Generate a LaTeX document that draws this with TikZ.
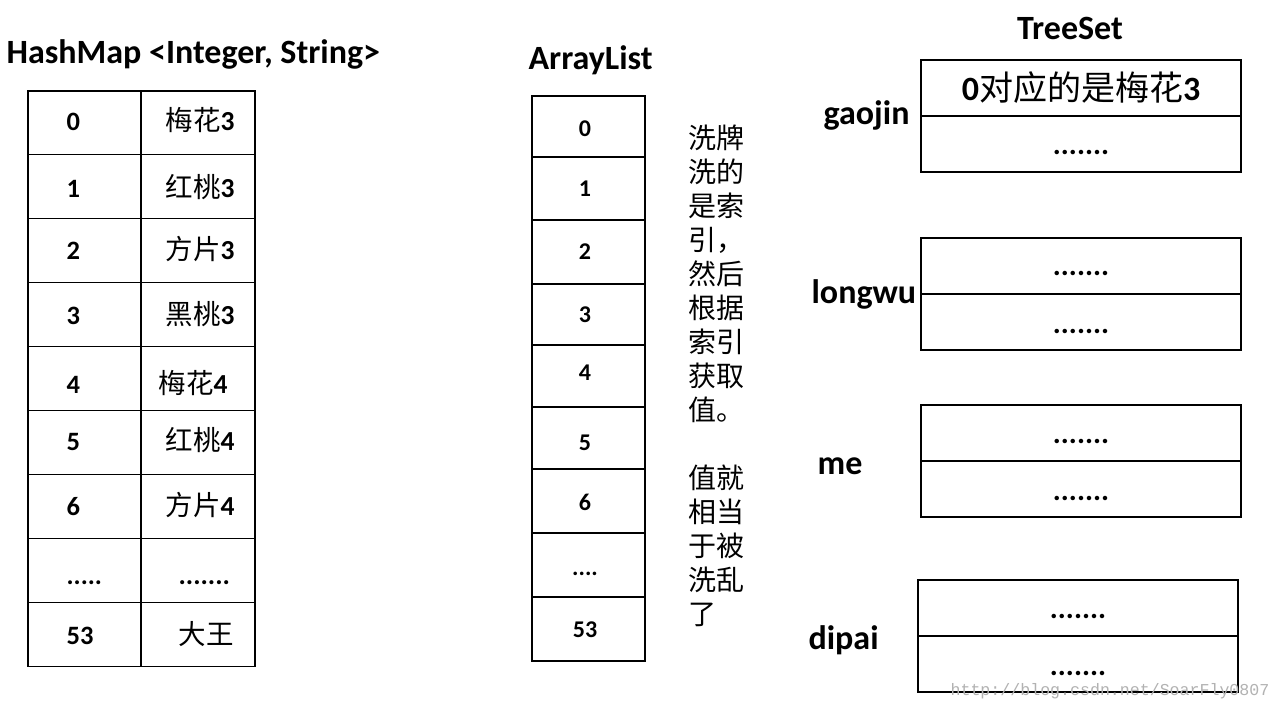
\documentclass[tikz,border=0pt]{standalone}
\usepackage{fontspec}
\setmainfont{Carlito}
\newfontfamily\cjk{Noto Sans CJK SC}
\newfontfamily\wmfont{Liberation Mono}
\newcommand{\zh}[1]{{\cjk\mdseries #1}}
\newcommand{\fourdot}{....}
\newcommand{\fivedot}{.....}
\newcommand{\sevendot}{.......}
\tikzset{
  head/.style={font=\fontsize{34}{40}\selectfont\bfseries, inner sep=0pt, anchor=base west},
  hkey/.style={font=\fontsize{26.5}{30}\selectfont\bfseries, inner sep=0pt, anchor=base west},
  hval/.style={font=\fontsize{27.5}{32}\selectfont\bfseries, inner sep=0pt, anchor=base west},
  akey/.style={font=\fontsize{24}{28}\selectfont\bfseries, inner sep=0pt, anchor=base},
  note/.style={font=\fontsize{28}{34}\selectfont\cjk, inner sep=0pt, anchor=north west, align=left},
  dots/.style={font=\fontsize{30}{34}\selectfont\bfseries, inner sep=0pt, anchor=base},
  wmark/.style={font=\fontsize{16.6}{20}\selectfont\wmfont, text=black!30, inner sep=0pt, anchor=base west}
}

\begin{document}
\begin{tikzpicture}[x=1pt,y=-1pt,line width=1.2pt]
  \fill[white] (0,0) rectangle (1281,708);
  \useasboundingbox (0,0) rectangle (1281,708);

  % HashMap
  \node[head] (hmtitle) at (6,64) {HashMap <Integer, String>};
  \foreach \r in {0,...,8}{
    \draw (28,91+63.9*\r) rectangle (141,154.9+63.9*\r);
    \draw (141,91+63.9*\r) rectangle (255,154.9+63.9*\r);
  }
  \foreach \y/\k/\v/\vx [count=\i from 0] in
    {131/0/{\zh{梅花}3}/165, 198/1/{\zh{红桃}3}/165, 260/2/{\zh{方片}3}/165,
     324/3/{\zh{黑桃}3}/165, 393/4/{\zh{梅花}4}/158, 450/5/{\zh{红桃}4}/165,
     515/6/{\zh{方片}4}/165, 584/\fivedot/\sevendot/178, 644/53/{\zh{大王}}/178}{
    \node[hkey] (hk\i) at (66,\y) {\k};
    \node[hval] (hv\i) at (\vx,\y) {\v};
  }

  % ArrayList
  \node[head] (altitle) at (528,70) {ArrayList};
  \foreach \a/\b in {96/157,157/220,220/284,284/345,345/407,407/469,469/533,533/597,597/661}
    \draw (532,\a) rectangle (645,\b);
  \foreach \y/\k [count=\i from 0] in
    {137/0, 197/1, 260/2, 322/3, 380/4, 450/5, 510/6, 575/\fourdot, 637/53}
    \node[akey] (ak\i) at (585,\y) {\k};

  % note
  \node[note] (shuffle) at (688,124)
    {洗牌\\洗的\\是索\\引，\\然后\\根据\\索引\\获取\\值。\\[34pt]值就\\相当\\于被\\洗乱\\了};

  % TreeSet
  \node[head,anchor=base] (tstitle) at (1070,40) {TreeSet};
  \foreach \name/\x/\t/\lx/\ly in
    {gaojin/921/60/823/125, longwu/921/238/811/304, me/921/405/817/474, dipai/918/580/808/649}{
    \draw (\x,\t) rectangle (\x+320,\t+112);
    \draw (\x,\t+56) -- (\x+320,\t+56);
    \node[head] (\name) at (\lx,\ly) {\name};
    \node[dots] (\name-b) at (\x+160,\t+95) {\sevendot};
  }
  \node[font=\fontsize{34}{40}\selectfont\bfseries, inner sep=0pt] (gaojin-a) at (1081,88)
    {0\zh{对应的是梅花}3};
  \foreach \name/\x/\t in {longwu/921/238, me/921/405, dipai/918/580}
    \node[dots] (\name-a) at (\x+160,\t+38) {\sevendot};

  \node[wmark] (wm) at (950,695) {http://blog.csdn.net/SoarFly0807};
\end{tikzpicture}
\end{document}
